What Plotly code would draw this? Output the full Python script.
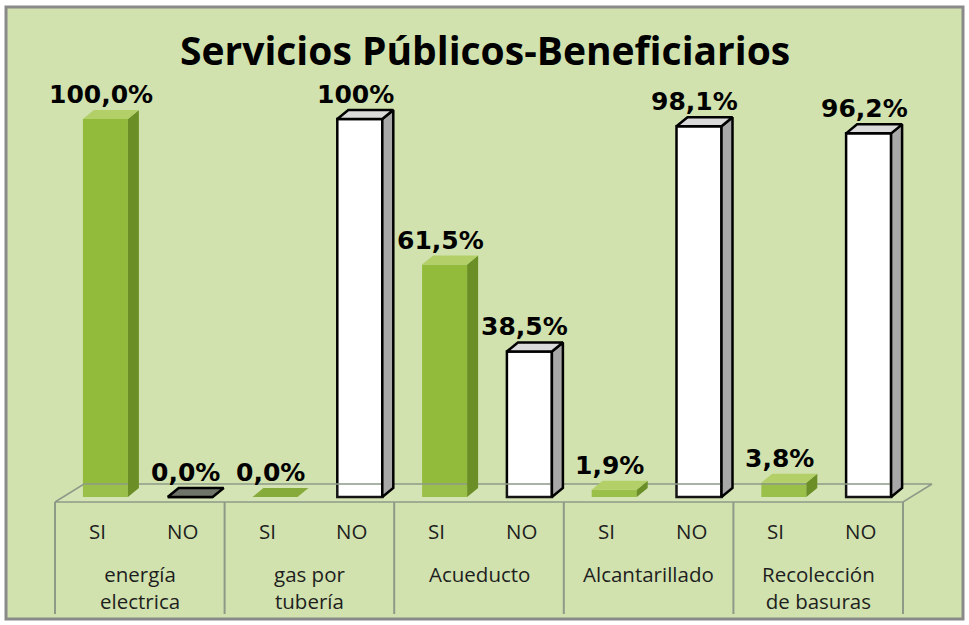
import plotly.graph_objects as go

# ---------------- data ----------------
title_text = "Servicios Públicos-Beneficiarios"
groups = ["energía<br>electrica", "gas por<br>tubería", "Acueducto", "Alcantarillado", "Recolección<br>de basuras"]
answers = ["SI", "NO"]
si_values = [100.0, 0.0, 61.5, 1.9, 3.8]
no_values = [0.0, 100.0, 38.5, 98.1, 96.2]
si_labels = ["100,0%", "0,0%", "61,5%", "1,9%", "3,8%"]
no_labels = ["0,0%", "100%", "38,5%", "98,1%", "96,2%"]

# ---------------- geometry (pixel-based layout) ----------------
W, H = 969, 625
X0_PX, X1_PX = 55, 903          # left edge of first slot / right edge of last slot
Y0_PX = 497                     # pixel row of value 0
PXY = 3.78                      # pixels per percentage unit
n_slots = len(groups) * len(answers)
UX = (X1_PX - X0_PX) / n_slots  # pixels per category unit

def dxd(px):
    return px / UX

def dyd(px):
    return px / PXY

xmin = -0.5 - X0_PX / UX
xmax = -0.5 + (W - X0_PX) / UX
ymin = -(H - Y0_PX) / PXY
ymax = Y0_PX / PXY

shift = dxd(8)
bw = dxd(45)
ddx, ddy = dxd(11), dyd(9)

GREEN_FRONT = "#92bb3b"
GREEN_SIDE = "#6b8f26"
GREEN_TOP = "#b2cf68"
GREEN_ZERO = "#86ab3a"
WHITE_SIDE = "#a8a8a8"
WHITE_TOP = "#dadada"
ZERO_TOP = "#6f7568"
BG = "#d1e2ae"
FLOOR_LINE = "#8d9a88"

fig = go.Figure()

# floor of the 3D plot
fl_front, fl_back = dyd(-5), dyd(13)
fl_dx = dxd(29)
fig.add_trace(go.Scatter(
    x=[-0.5, n_slots - 0.5, n_slots - 0.5 + fl_dx, -0.5 + fl_dx, -0.5],
    y=[fl_front, fl_front, fl_back, fl_back, fl_front],
    mode="lines", fill="toself", fillcolor="rgba(255,255,255,0.08)",
    line=dict(color=FLOOR_LINE, width=1.5), hoverinfo="skip", showlegend=False))

si_x = [2 * g + shift for g in range(len(groups))]
no_x = [2 * g + 1 + shift for g in range(len(groups))]

# front faces
fig.add_trace(go.Bar(x=si_x, y=si_values, width=bw, marker=dict(color=GREEN_FRONT, line=dict(width=0)),
                     name="SI", showlegend=False, hoverinfo="skip"))
fig.add_trace(go.Bar(x=no_x, y=no_values, width=bw, marker=dict(color="white", line=dict(color="black", width=2.5)),
                     name="NO", showlegend=False, hoverinfo="skip"))

def add_faces(xc, v, green):
    xl, xr = xc - bw / 2, xc + bw / 2
    if green:
        side_fill, top_fill, lcol, lw = GREEN_SIDE, (GREEN_TOP if v > 0 else GREEN_ZERO), "rgba(0,0,0,0)", 0
    else:
        side_fill, top_fill, lcol, lw = WHITE_SIDE, (WHITE_TOP if v > 0 else ZERO_TOP), "black", 2.5
    if v > 0:
        fig.add_trace(go.Scatter(
            x=[xr, xr + ddx, xr + ddx, xr, xr], y=[0, ddy, v + ddy, v, 0],
            mode="lines", fill="toself", fillcolor=side_fill,
            line=dict(color=lcol, width=lw), hoverinfo="skip", showlegend=False))
    fig.add_trace(go.Scatter(
        x=[xl, xr, xr + ddx, xl + ddx, xl], y=[v, v, v + ddy, v + ddy, v],
        mode="lines", fill="toself", fillcolor=top_fill,
        line=dict(color=lcol, width=lw), hoverinfo="skip", showlegend=False))

for xc, v in zip(si_x, si_values):
    add_faces(xc, v, True)
for xc, v in zip(no_x, no_values):
    add_faces(xc, v, False)

annotations = []
# data labels
lab_font = dict(family="DejaVu Sans", size=25, color="black", weight="bold")
for g in range(len(groups)):
    for k, (vals, labs) in enumerate([(si_values, si_labels), (no_values, no_labels)]):
        annotations.append(dict(x=2 * g + k + dxd(3.5), y=vals[g] + ddy, xref="x", yref="y",
                                text=labs[g], showarrow=False, yanchor="bottom", xanchor="center",
                                font=lab_font, yshift=-1))

# category labels
cat_font = dict(family="Open Sans", size=20.5, color="#1e1e1e")
for g in range(len(groups)):
    for k, a in enumerate(answers):
        annotations.append(dict(x=2 * g + k, y=dyd(Y0_PX - 531), xref="x", yref="y", text=a,
                                showarrow=False, yanchor="middle", xanchor="center", font=cat_font))
    annotations.append(dict(x=2 * g + 0.5, y=dyd(Y0_PX - 558), xref="x", yref="y", text=groups[g],
                            showarrow=False, yanchor="top", xanchor="center", font=cat_font))

# title
annotations.append(dict(x=485 / W, y=1 - 49 / H, xref="paper", yref="paper", text=title_text,
                        showarrow=False, xanchor="center", yanchor="middle",
                        font=dict(family="Open Sans", size=39, color="black", weight="bold")))

shapes = [dict(type="rect", xref="paper", yref="paper", x0=6 / W, x1=963 / W, y0=1 - 619 / H, y1=1 - 7 / H,
               fillcolor=BG, line=dict(color="#8a8a8a", width=3), layer="below")]
# group dividers
for g in range(len(groups) + 1):
    xd = -0.5 + 2 * g
    shapes.append(dict(type="line", xref="x", yref="y", x0=xd, x1=xd, y0=fl_front, y1=dyd(Y0_PX - 614),
                       line=dict(color=FLOOR_LINE, width=2)))

fig.update_layout(
    width=W, height=H, margin=dict(l=0, r=0, t=0, b=0),
    paper_bgcolor="white", plot_bgcolor="rgba(0,0,0,0)",
    barmode="overlay", showlegend=False,
    xaxis=dict(range=[xmin, xmax], visible=False, fixedrange=True),
    yaxis=dict(range=[ymin, ymax], visible=False, fixedrange=True),
    annotations=annotations, shapes=shapes,
)

fig.write_html("out.html", config={"displayModeBar": False},
               post_script="document.body.style.margin='0';")
